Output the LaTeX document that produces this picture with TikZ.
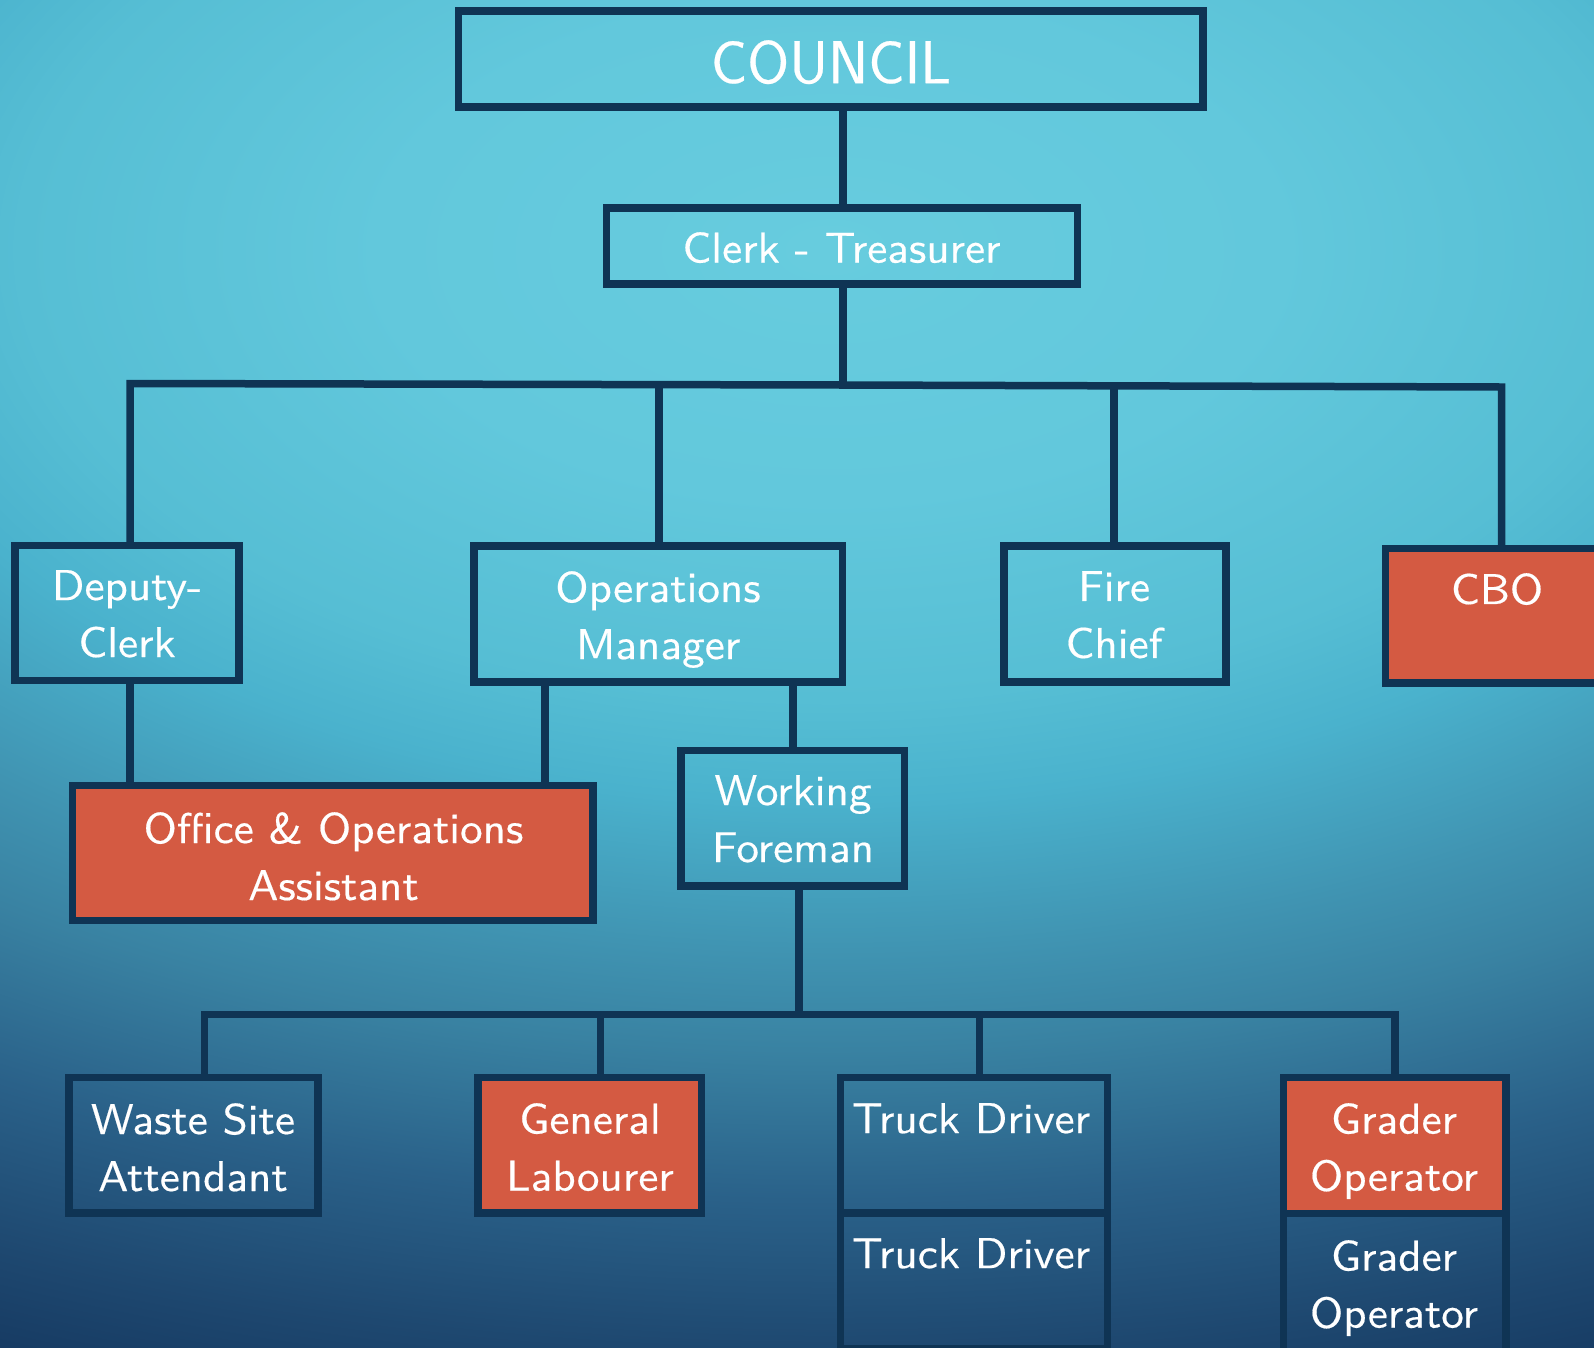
\documentclass[tikz,border=0pt]{standalone}
\usepackage{fontspec}
\newfontfamily\orgfont{lmsans10-regular.otf}[FakeStretch=1.05,FakeBold=0.4]
\newfontfamily\headfont{lmsans17-regular.otf}[FakeBold=0.4]
\definecolor{edge}{RGB}{15,52,84}
\definecolor{brick}{RGB}{212,90,66}
\definecolor{bga}{RGB}{103,204,222}
\definecolor{bgb}{RGB}{98,200,220}
\definecolor{bgc}{RGB}{86,190,212}
\definecolor{bgd}{RGB}{74,178,205}
\definecolor{bge}{RGB}{64,148,178}
\definecolor{bgf}{RGB}{57,130,162}
\definecolor{bgg}{RGB}{42,97,137}
\definecolor{bgh}{RGB}{30,72,112}
\definecolor{bgi}{RGB}{22,58,98}
\definecolor{bgj}{RGB}{17,46,88}
\pgfdeclareradialshading{backdrop}{\pgfpoint{0bp}{0bp}}{%
  color(0bp)=(bga); color(4.63bp)=(bgb); color(8.33bp)=(bgc);
  color(10.19bp)=(bgd); color(12.96bp)=(bge); color(14.81bp)=(bgf);
  color(17.59bp)=(bgg); color(20.37bp)=(bgh); color(22.22bp)=(bgi);
  color(25bp)=(bgj); color(50bp)=(bgj)}
\begin{document}
\begin{tikzpicture}[x=1pt,y=-1pt,
  box/.style={draw=edge, line width=7.5pt, inner sep=0pt, outer sep=0pt},
  hot/.style={box, fill=brick},
  link/.style={draw=edge, line width=7.5pt},
  lbl/.style={text=white, font=\orgfont\fontsize{43}{57}\selectfont,
    align=center, anchor=north, inner sep=0pt},
  big/.style={lbl, font=\headfont\fontsize{60.5}{70}\selectfont}]
\useasboundingbox (0,0) rectangle (1594,1347);
\begin{scope}
\clip (0,0) rectangle (1594,1347);
% backdrop glow
\shade[shading=backdrop] (-1600,-1100) rectangle (3260,1600);

% boxes
\node[box, minimum width=744.5pt, minimum height=96pt] (council) at (830.75,59) {};
\node[box, minimum width=471pt, minimum height=76pt] (clerk) at (842,246) {};
\node[box, minimum width=224pt, minimum height=135pt] (deputy) at (127,613) {};
\node[box, minimum width=368.5pt, minimum height=136pt] (ops) at (658.25,614) {};
\node[box, minimum width=222pt, minimum height=136pt] (fire) at (1114.75,614) {};
\node[hot, minimum width=234.5pt, minimum height=134.3pt] (cbo) at (1502.75,615.85) {};
\node[hot, minimum width=520.3pt, minimum height=135pt] (office) at (332.85,853) {};
\node[box, minimum width=223.5pt, minimum height=135.5pt] (wf) at (792.75,818.25) {};
\node[box, minimum width=249pt, minimum height=135.5pt] (waste) at (193.5,1145.25) {};
\node[hot, minimum width=223.5pt, minimum height=135.5pt] (general) at (589.75,1145.25) {};
\node[box, minimum width=267pt, minimum height=135.5pt] (truck1) at (974,1145.25) {};
\node[box, minimum width=267pt, minimum height=136pt] (truck2) at (974,1281) {};
\node[hot, minimum width=222.5pt, minimum height=136pt] (grader1) at (1394.75,1145.5) {};
\node[box, minimum width=222.5pt, minimum height=138.5pt] (grader2) at (1394.75,1282.75) {};

% labels
\node[big] (council-t) at (831,40) {COUNCIL};
\node[lbl] (clerk-t) at (841.5,232) {Clerk - Treasurer};
\node[lbl] (deputy-t) at (127,570) {Deputy-\\Clerk};
\node[lbl] (ops-t) at (658,571) {Operations\\Manager};
\node[lbl] (fire-t) at (1114,571) {Fire\\Chief};
\node[lbl] (cbo-t) at (1497,573) {CBO};
\node[lbl] (office-t) at (333.5,812) {Office \& Operations\\Assistant};
\node[lbl] (wf-t) at (793,775) {Working\\Foreman};
\node[lbl] (waste-t) at (193,1103) {Waste Site\\Attendant};
\node[lbl] (general-t) at (590,1103) {General\\Labourer};
\node[lbl] (truck1-t) at (971,1103) {Truck Driver};
\node[lbl] (truck2-t) at (971,1238) {Truck Driver};
\node[lbl] (grader1-t) at (1394,1103) {Grader\\Operator};
\node[lbl] (grader2-t) at (1394,1240) {Grader\\Operator};

% junction points of the connector bars
\coordinate (jtop) at (843,385);
\coordinate (jdep) at (130,383.5);
\coordinate (jops) at (659,384.6);
\coordinate (jfire) at (1114,385.8);
\coordinate (jcbo) at (1501.7,387);
\coordinate (xoff) at (545,0);
\coordinate (jwf) at (799,1014.5);
\coordinate (jwaste) at (204.5,1014.5);
\coordinate (jgen) at (600.5,1014.5);
\coordinate (jtruck) at (979.5,1014.5);
\coordinate (jgrad) at (1395,1014.5);

% connectors
\draw[link] (council.south -| jtop) -- (clerk.north -| jtop);
\draw[link] (clerk.south -| jtop) -- (jtop);
\draw[link] (deputy.north -| jdep) -- (jdep) -- (jtop) -- (jcbo) -- (cbo.north -| jcbo);
\draw[link] (jops) -- (ops.north -| jops);
\draw[link] (jfire) -- (fire.north -| jfire);
\draw[link] (deputy.south -| jdep) -- (office.north -| jdep);
\draw[link] (ops.south -| xoff) -- (office.north -| xoff);
\draw[link] (ops.south -| wf.north) -- (wf.north);
\draw[link] (wf.south -| jwf) -- (jwf);
\draw[link] (waste.north -| jwaste) -- (jwaste) -- (jgrad) -- (grader1.north -| jgrad);
\draw[link] (jgen) -- (general.north -| jgen);
\draw[link] (jtruck) -- (truck1.north -| jtruck);
\end{scope}
\end{tikzpicture}
\end{document}
